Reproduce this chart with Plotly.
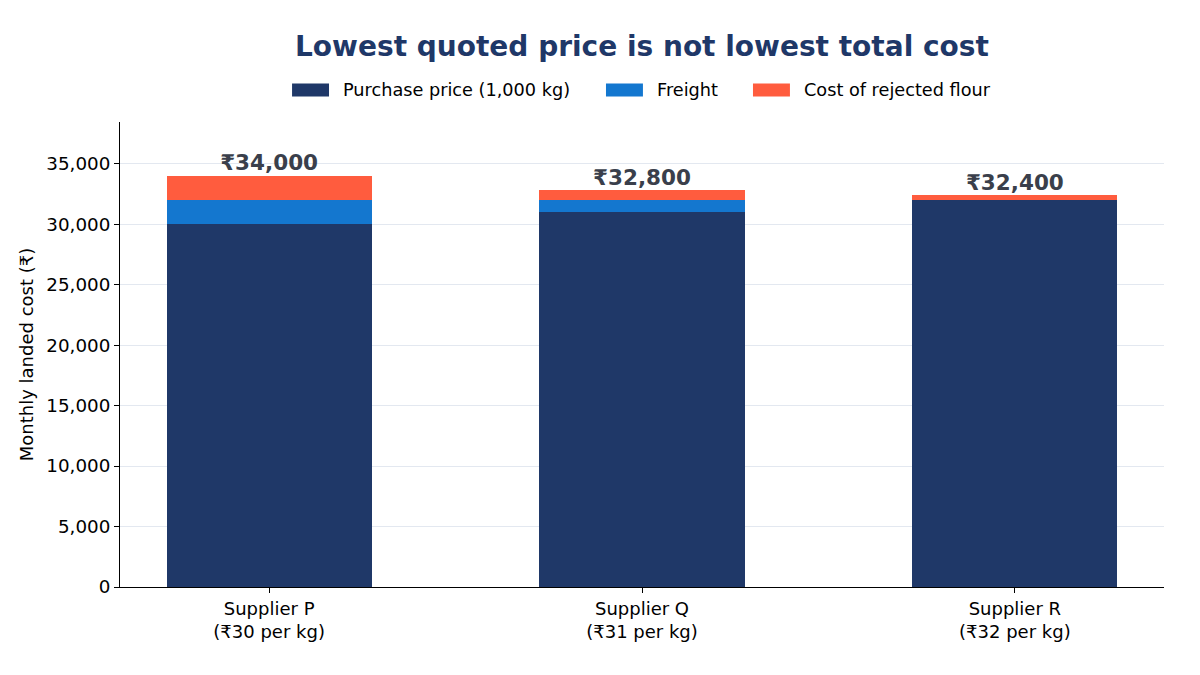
import plotly.graph_objects as go

suppliers = ["Supplier P<br>(₹30 per kg)", "Supplier Q<br>(₹31 per kg)", "Supplier R<br>(₹32 per kg)"]
purchase = [30000, 31000, 32000]
freight = [2000, 1000, 0]
rejected = [2000, 800, 400]
totals = [p + f + r for p, f, r in zip(purchase, freight, rejected)]

series = [
    ("Purchase price (1,000 kg)", purchase, "#1f3868"),
    ("Freight", freight, "#1477cf"),
    ("Cost of rejected flour", rejected, "#ff5c3e"),
]

FONT = "DejaVu Sans"

fig = go.Figure()
for name, vals, color in series:
    fig.add_trace(go.Bar(x=suppliers, y=vals, name=name, marker_color=color,
                         marker_line_width=0, width=0.55, showlegend=False))

# total labels above each stack
fig.add_trace(go.Scatter(
    x=suppliers, y=totals, mode="text",
    text=[f"₹{t:,}" for t in totals], textposition="top center",
    textfont=dict(size=21.5, color="#3a3f4b", family=FONT, weight="bold"),
    showlegend=False, hoverinfo="skip",
))

# legend drawn by hand so the swatches are wide rectangles (matplotlib style)
legend_x = [0.1648, 0.4655, 0.6063]   # left edge of each swatch, paper coords
sw_w, sw_h, ly = 0.0354, 0.014, 1.0688
for (name, _, color), x0 in zip(series, legend_x):
    fig.add_shape(type="rect", xref="paper", yref="paper",
                  x0=x0, x1=x0 + sw_w, y0=ly - sw_h, y1=ly + sw_h,
                  fillcolor=color, line_width=0)
    fig.add_annotation(xref="paper", yref="paper", x=x0 + sw_w + 0.0116, y=ly,
                       text=name, showarrow=False, xanchor="left", yanchor="middle",
                       font=dict(size=17.7, family=FONT, color="black"))

fig.update_layout(
    barmode="stack",
    width=1200, height=675,
    margin=dict(l=112, r=44, t=114, b=96),
    paper_bgcolor="white", plot_bgcolor="white",
    font=dict(family=FONT, size=18, color="black"),
    title=dict(text="<b>Lowest quoted price is not lowest total cost</b>",
               x=0.5283, xanchor="center", y=0.944, yanchor="middle",
               font=dict(size=28, color="#1f3868")),
)
fig.update_xaxes(range=[-0.4, 2.4], showline=True, linecolor="black", linewidth=1,
                 ticks="outside", ticklen=5, tickcolor="black", showgrid=False,
                 tickfont=dict(size=18))
fig.update_yaxes(range=[0, 38450], showline=True, linecolor="black", linewidth=1,
                 ticks="outside", ticklen=5, tickcolor="black", tickfont=dict(size=18.3),
                 tickformat=",", dtick=5000, gridcolor="#e3e8f0", zeroline=False,
                 title=dict(text="Monthly landed cost (₹)", font=dict(size=18), standoff=8))

fig.write_html("out.html")
